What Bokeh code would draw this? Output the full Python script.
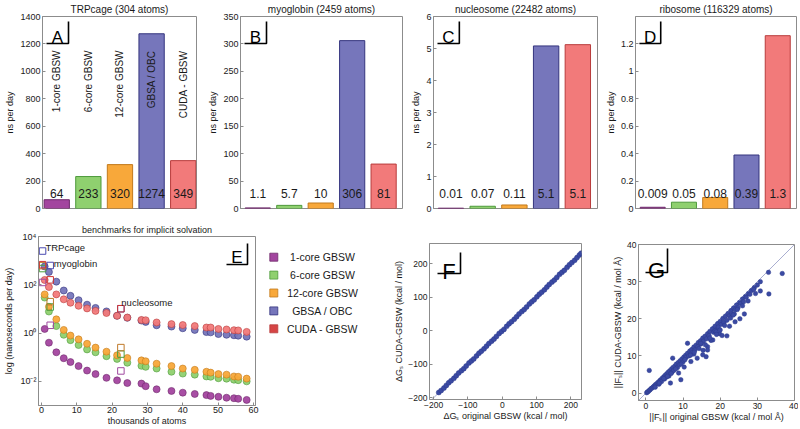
import math
from bokeh.plotting import figure
from bokeh.models import Range1d, FixedTicker, CustomJSTickFormatter
from bokeh.layouts import row, column
from bokeh.embed import file_html
from bokeh.resources import INLINE
from bokeh.core.properties import value

FONT = "Liberation Sans"
AX = "#8c8c8c"
TXT = "#1a1a1a"

# ---------------- data ----------------
methods = ["1-core GBSW", "6-core GBSW", "12-core GBSW", "GBSA / OBC", "CUDA - GBSW"]
bar_fill = ["#a3459f", "#8fd06f", "#f8a83a", "#7676bb", "#f27a7a"]
bar_edge = ["#6e2a6b", "#4e9a3c", "#c27a1c", "#34347e", "#b83c3c"]
legend_fill = ["#a3459f", "#8fd06f", "#f8a83a", "#7676bb", "#d64545"]
square_edge = ["#a04aa0", "#4aa040", "#c07a2a", "#4a4ab0", "#d03535"]
positions = [1, 2, 3, 4, 5]

trp_ns = [64, 233, 320, 1274, 349]
trp_lbl = ["64", "233", "320", "1274", "349"]
myo_ns = [1.1, 5.7, 10, 306, 81]
myo_lbl = ["1.1", "5.7", "10", "306", "81"]
nuc_ns = [0.01, 0.07, 0.11, 5.08, 5.12]
nuc_lbl = ["0.01", "0.07", "0.11", "5.1", "5.1"]
rib_ns = [0.009, 0.046, 0.08, 0.39, 1.26]
rib_lbl = ["0.009", "0.05", "0.08", "0.39", "1.3"]

# panel E: thousands of atoms vs ns/day
atoms_k = [0.9, 2.1, 4.2, 6.3, 8.2, 10.5, 12.9, 15.3, 18.4, 21.4, 24.3, 28.3,
           29.5, 32.6, 36.8, 40.0, 43.4, 46.7, 47.9, 50.1, 52.4, 54.5, 55.7, 58.1]
ns_1core = [1.48, 0.40, 0.16, 0.091, 0.063, 0.043, 0.028, 0.020, 0.014, 0.011, 0.0085, 0.0081,
            0.0063, 0.0047, 0.0040, 0.0034, 0.0030, 0.0027, 0.0025, 0.0023, 0.0021, 0.0020, 0.0019, 0.0017]
ns_6core = [29.5, 7.8, 1.95, 0.85, 0.51, 0.32, 0.21, 0.16, 0.11, 0.085, 0.059, 0.044,
            0.040, 0.034, 0.025, 0.021, 0.019, 0.016, 0.0155, 0.0135, 0.0129, 0.0117, 0.0112, 0.010]
ns_12core = [40, 12.3, 3.7, 1.35, 0.79, 0.55, 0.36, 0.25, 0.17, 0.12, 0.093, 0.074,
             0.068, 0.054, 0.043, 0.034, 0.030, 0.025, 0.023, 0.020, 0.019, 0.016, 0.0155, 0.013]
ns_obc = [575, 340, 135, 58, 35, 23, 15, 11, 7.9, 5.2, 4.3, 3.3,
          2.9, 2.1, 1.86, 1.58, 1.35, 1.10, 1.07, 0.91, 0.85, 0.81, 0.78, 0.71]
ns_cuda = [158, 81, 40, 25, 18, 13.5, 10.5, 8.3, 6.8, 5.2, 4.4, 3.5,
           3.4, 2.75, 2.35, 2.15, 1.95, 1.7, 1.7, 1.48, 1.41, 1.32, 1.29, 1.12]
series_E = [ns_1core, ns_6core, ns_12core, ns_obc, ns_cuda]

bench_names = ["TRPcage", "myoglobin", "nucleosome"]
bench_atoms_k = [0.3, 2.46, 22.48]
bench_ns = [  # per method: TRPcage, myoglobin, nucleosome
    [125, 2.1, 0.027],
    [470, 12, 0.135],
    [620, 20, 0.25],
    [2500, 630, 10.2],
    [680, 160, 10.2],
]
bench_label_x = [1.1, 3.5, 22.6]
bench_label_y = [3400, 740, 18.6]

# panel F: solvation energies
f_orig = [-185, -178, -170, -163, -156, -149, -141, -134, -127, -119, -112, -105, -97, -90, -83,
          -75, -68, -61, -53, -46, -39, -31, -24, -17, -9, -2, 5, 13, 20, 27, 35, 42, 49, 57,
          64, 71, 79, 86, 93, 101, 108, 115, 123, 130, 137, 145, 152, 159, 167, 174, 181, 189,
          196, 203, 211, 218, 225, 230]
f_cuda = [-184, -178, -171, -163, -155, -149, -142, -134, -126, -119, -113, -105, -96, -90, -84,
          -75, -67, -61, -54, -46, -38, -31, -25, -17, -8, -2, 4, 13, 21, 27, 34, 42, 50, 57,
          63, 71, 80, 86, 92, 101, 109, 115, 122, 130, 138, 145, 151, 159, 168, 174, 180, 189,
          197, 203, 210, 218, 226, 231]

# panel G: force norms
g_orig = [0.2, 0.4, 0.6, 0.9, 1.1, 1.4, 1.7, 2.0, 2.3, 2.6, 3.0, 3.3, 3.7, 4.0, 4.4, 4.8, 5.2, 5.6,
          6.0, 6.4, 6.9, 7.3, 7.8, 8.2, 8.7, 9.2, 9.7, 10.2, 10.7, 11.2, 11.8, 12.3, 12.9, 13.5,
          14.1, 14.7, 15.3, 15.9, 16.6, 17.2, 17.9, 18.6, 19.3, 20.0, 20.7, 21.4, 22.1, 22.9,
          23.6, 24.4, 25.2, 26.0, 26.8, 27.6, 28.4, 29.2, 30.0, 30.8,
          2.5, 3.5, 4.2, 5.0, 5.5, 6.2, 7.0, 7.5, 8.5, 9.0, 10.0, 10.8, 11.5, 12.4, 13.2, 14.0,
          14.8, 15.5, 16.3, 17.0, 17.5, 18.2, 18.9, 19.5, 20.3, 21.0, 21.8, 22.5, 23.2, 24.0,
          24.8, 25.5, 26.3, 27.0, 28.0, 29.0,
          36.7, 33.0, 33.1, 30.8, 26.5, 24.0, 21.8, 18.0, 18.6, 16.6, 14.8, 13.8, 11.2, 7.2,
          9.4, 8.8, 0.9, 3.6, 6.6, 12.1, 16.2, 19.8, 22.5, 25.3, 12.9, 10.3, 15.4, 20.5,
          23.8, 18.9, 17.5, 16.6, 15.3, 22.8, 23.5, 24.6, 21.2, 20.0, 19.0, 17.2, 16.0, 14.3,
          13.0, 12.0, 10.5, 9.5, 8.0, 6.8, 5.8, 4.8, 26.0, 27.5, 29.5]
g_cuda = [0.1, 0.3, 0.4, 0.7, 0.9, 1.2, 1.4, 1.7, 2.0, 2.3, 2.6, 2.9, 3.3, 3.6, 4.0, 4.4, 4.8, 5.2,
          5.6, 6.0, 6.5, 6.9, 7.3, 7.8, 8.2, 8.7, 9.2, 9.7, 10.2, 10.7, 11.3, 11.7, 12.4, 12.9,
          13.6, 14.1, 14.8, 15.3, 16.0, 16.6, 17.3, 18.0, 18.7, 19.3, 20.1, 20.7, 21.4, 22.2,
          22.9, 23.7, 24.4, 25.3, 26.0, 26.8, 27.6, 28.4, 29.1, 30.0,
          1.6, 2.4, 3.1, 3.8, 4.3, 4.6, 5.6, 6.1, 6.9, 7.6, 8.4, 9.6, 10.0, 10.9, 11.6, 12.5,
          13.2, 14.0, 14.6, 15.5, 14.2, 16.4, 17.0, 17.8, 18.5, 19.0, 19.6, 20.8, 21.3, 22.4,
          23.0, 24.1, 24.6, 25.8, 26.6, 27.9,
          32.2, 32.5, 26.7, 27.5, 21.3, 19.2, 15.4, 14.3, 16.8, 12.5, 13.4, 9.4, 13.4, 9.4,
          3.6, 5.4, 6.1, 2.7, 2.7, 8.5, 9.8, 16.0, 18.0, 20.0, 10.5, 7.0, 11.5, 15.5,
          21.3, 16.5, 14.3, 11.6, 10.3, 20.2, 21.0, 22.5, 18.2, 17.0, 15.8, 14.8, 13.0, 12.0,
          11.0, 10.2, 9.0, 7.8, 6.5, 5.3, 4.5, 3.9, 23.5, 24.8, 26.8]


# ---------------- helpers ----------------
def style(p):
    p.xgrid.visible = False
    p.ygrid.visible = False
    p.outline_line_color = AX
    p.outline_line_width = 1
    p.background_fill_color = "white"
    p.border_fill_color = "white"
    for ax in p.axis:
        ax.axis_line_color = AX
        ax.major_tick_line_color = AX
        ax.major_tick_in = 3
        ax.major_tick_out = 0
        ax.minor_tick_line_color = None
        ax.major_label_text_font = FONT
        ax.major_label_text_font_size = "9px"
        ax.major_label_text_color = TXT
        ax.axis_label_text_font = FONT
        ax.axis_label_text_font_size = "9px"
        ax.axis_label_text_font_style = "normal"
        ax.axis_label_text_color = TXT
        ax.major_label_standoff = 2
        ax.axis_label_standoff = 3


def make_fig(w, h, xr, yr, mb, title=None, title_size="10px", y_log=False):
    p = figure(width=w, height=h, x_range=Range1d(*xr), y_range=Range1d(*yr),
               output_backend="svg", toolbar_location=None, tools="",
               min_border_left=mb[0], min_border_right=mb[1],
               min_border_top=mb[2], min_border_bottom=mb[3],
               y_axis_type="log" if y_log else "linear")
    if title:
        p.title.text = title
        p.title.align = "center"
        p.title.text_font = FONT
        p.title.text_font_size = title_size
        p.title.text_font_style = "normal"
        p.title.text_color = TXT
        p.title.standoff = 3
    style(p)
    return p


def bracket(p, letter, xr, yr, fw, fh, hx, vy, lift, size="17px",
            from_right=False, y_log=False):
    """Panel letter with an L-shaped mark, placed in pixel offsets of the frame."""
    def X(px):
        if from_right:
            px = fw - px
        return xr[0] + px / fw * (xr[1] - xr[0])

    def Y(py):
        if y_log:
            lo, hi = math.log10(yr[0]), math.log10(yr[1])
            return 10 ** (hi - py / fh * (hi - lo))
        return yr[1] - py / fh * (yr[1] - yr[0])

    x_far, x_corner = hx
    y_top, y_corner = vy
    p.line([X(x_far), X(x_corner), X(x_corner)], [Y(y_corner), Y(y_corner), Y(y_top)],
           line_color="black", line_width=1.6)
    xc = (x_far + x_corner) / 2.0
    p.text([X(xc)], [Y(y_corner - lift)], text=[letter], text_font=value(FONT),
           text_font_size=size, text_align="center", text_baseline="alphabetic",
           text_color="black")


# ---------------- top row: bar charts ----------------
TOP_H = 214
MT, MB = 16, 6
FH = TOP_H - MT - MB


def bar_panel(title, vals, labels, ymax, step, letter, w, ml, mr, xr, fmt=None, rotated=False):
    yr = (0, ymax)
    p = make_fig(w, TOP_H, xr, yr, (ml, mr, MT, MB), title=title)
    p.xaxis.visible = False
    n_ticks = int(round(ymax / step))
    p.yaxis.ticker = FixedTicker(ticks=[i * step for i in range(n_ticks + 1)])
    if fmt is not None:
        p.yaxis.formatter = fmt
    p.yaxis.axis_label = "ns per day"
    p.yaxis.axis_label_standoff = 2
    p.vbar(x=positions, top=vals, width=0.8, bottom=0, fill_color=bar_fill,
           line_color=bar_edge, line_width=1)
    p.text(x=positions, y=[ymax * 0.077] * 5, text=labels, text_font=value(FONT),
           text_font_size="12px", text_align="center", text_baseline="middle",
           text_color=TXT)
    if rotated:
        p.text(x=positions, y=[ymax * 0.823] * 5, text=methods, text_font=value(FONT),
               text_font_size="10px", text_align="right", text_baseline="middle",
               angle=math.pi / 2, text_color=TXT)
    fw = w - ml - mr
    bracket(p, letter, xr, yr, fw, FH, (4, 26), (5, 27), 6)
    return p


dec1 = CustomJSTickFormatter(code="return (Math.round(tick * 10) / 10).toString();")

pA = bar_panel("TRPcage (304 atoms)", trp_ns, trp_lbl, 1400, 200, "A", 200, 42, 4,
               (0.55, 5.42), rotated=True)
pB = bar_panel("myoglobin (2459 atoms)", myo_ns, myo_lbl, 350, 50, "B", 208, 40, 6,
               (0.45, 5.6))
pC = bar_panel("nucleosome (22482 atoms)", nuc_ns, nuc_lbl, 6, 1, "C", 194, 24, 5,
               (0.45, 5.62))
pD = bar_panel("ribosome (116329 atoms)", rib_ns, rib_lbl, 1.4, 0.2, "D", 196, 28, 2,
               (0.45, 5.6), fmt=dec1)

# ---------------- bottom row ----------------
BOT_H = 214

# panel E
E_W, E_ML, E_MR, E_MT, E_MB = 262, 38, 7, 22, 23
e_xr = (-0.85, 60.6)
e_yr = (1e-3, 1e4)
pE = make_fig(E_W, BOT_H, e_xr, e_yr, (E_ML, E_MR, E_MT, E_MB),
              title="benchmarks for implicit solvation", title_size="9px", y_log=True)
pE.xaxis.ticker = FixedTicker(ticks=[0, 10, 20, 30, 40, 50, 60])
pE.yaxis.ticker = FixedTicker(ticks=[1e-2, 1, 1e2, 1e4])
pE.yaxis.formatter = CustomJSTickFormatter(code="""
const e = Math.round(Math.log10(tick));
const sup = {'-2': '\u207b\u00b2', '0': '\u2070', '2': '\u00b2', '4': '\u2074'};
return '10' + (sup[String(e)] || String(e));
""")
pE.xaxis.axis_label = "thousands of atoms"
pE.yaxis.axis_label = "log (nanoseconds per day)"
pE.xaxis.major_label_standoff = 1
pE.xaxis.axis_label_standoff = 0

for vals, fc, ec in zip(series_E, bar_fill, bar_edge):
    pE.scatter(atoms_k, vals, marker="circle", size=7, fill_color=fc, line_color=ec,
               line_width=0.6, fill_alpha=0.95)
for vals, ec in zip(bench_ns, square_edge):
    pE.scatter(bench_atoms_k, vals, marker="square", size=6.5, fill_color=None,
               line_color=ec, line_width=1)
pE.text(bench_label_x, bench_label_y, text=bench_names, text_font=value(FONT),
        text_font_size="9.5px", text_align="left", text_baseline="middle", text_color=TXT)
bracket(pE, "E", e_xr, e_yr, E_W - E_ML - E_MR, BOT_H - E_MT - E_MB, (29, 8), (7, 28), 7,
        from_right=True, y_log=True)

# legend panel
L_W = 118
pL = figure(width=L_W, height=BOT_H, x_range=Range1d(0, L_W), y_range=Range1d(BOT_H, 0),
            output_backend="svg", toolbar_location=None, tools="",
            min_border_left=0, min_border_right=0, min_border_top=0, min_border_bottom=0)
pL.axis.visible = False
pL.xgrid.visible = False
pL.ygrid.visible = False
pL.outline_line_color = None
pL.background_fill_color = "white"
pL.border_fill_color = "white"
leg_y = [42.7 + 17.9 * i for i in range(len(methods))]
pL.scatter([11.3] * len(methods), leg_y, marker="square", size=8, fill_color=legend_fill,
           line_color=bar_edge, line_width=0.8)
pL.text([60] * len(methods), leg_y, text=methods, text_font=value(FONT),
        text_font_size="10.5px", text_align="center", text_baseline="middle", text_color=TXT)

# panel F
F_W, F_ML, F_MR, F_MT, F_MB = 220, 49, 19, 29, 29
f_xr = (-212, 231)
f_yr = (-205, 260)
pF = make_fig(F_W, BOT_H, f_xr, f_yr, (F_ML, F_MR, F_MT, F_MB))
pF.xaxis.ticker = FixedTicker(ticks=[-200, -100, 0, 100, 200])
pF.yaxis.ticker = FixedTicker(ticks=[-200, -100, 0, 100, 200])
pF.xaxis.axis_label = "\u0394G\u209b original GBSW (kcal / mol)"
pF.yaxis.axis_label = "\u0394G\u209b CUDA-GBSW (kcal / mol)"
for ax in pF.axis:
    ax.major_label_text_font_size = "8.5px"
    ax.axis_label_standoff = 1
pF.xaxis.axis_label_standoff = 0
lo = min(f_xr[0], f_yr[0])
hi = max(f_xr[1], f_yr[1])
pF.line([lo, hi], [lo, hi], line_color="#a9aed0", line_width=1)
pF.scatter(f_orig, f_cuda, marker="circle", size=5, fill_color="#3b4aa3",
           line_color="#2c3a8c", line_width=0.5)
bracket(pF, "F", f_xr, f_yr, F_W - F_ML - F_MR, BOT_H - F_MT - F_MB, (8, 31), (9, 30), 2,
        size="22px")

# panel G
G_W, G_ML, G_MR, G_MT, G_MB = 198, 38, 4, 30, 28
g_xr = (-2, 40)
g_yr = (-2, 40)
pG = make_fig(G_W, BOT_H, g_xr, g_yr, (G_ML, G_MR, G_MT, G_MB))
pG.xaxis.ticker = FixedTicker(ticks=[0, 10, 20, 30, 40])
pG.yaxis.ticker = FixedTicker(ticks=[0, 10, 20, 30, 40])
pG.xaxis.axis_label = "||F\u209b|| original GBSW (kcal / mol \u00c5)"
pG.yaxis.axis_label = "||F\u209b|| CUDA-GBSW (kcal / mol \u00c5)"
for ax in pG.axis:
    ax.major_label_text_font_size = "8.5px"
    ax.axis_label_standoff = 1
pG.xaxis.axis_label_standoff = 0
pG.line([g_xr[0], g_xr[1]], [g_yr[0], g_yr[1]], line_color="#a9aed0", line_width=1)
pG.scatter(g_orig, g_cuda, marker="circle", size=4.5, fill_color="#3b4aa3",
           line_color="#2c3a8c", line_width=0.5)
bracket(pG, "G", g_xr, g_yr, G_W - G_ML - G_MR, BOT_H - G_MT - G_MB, (7, 29), (4, 28), 2,
        size="22px")

# each plot wrapped on its own so that frames are not aligned across the row
layout = column(row(pA, pB, pC, pD),
                row(column(pE), column(pL), column(pF), column(pG)))

with open("out.html", "w") as f:
    f.write(file_html(layout, INLINE))
